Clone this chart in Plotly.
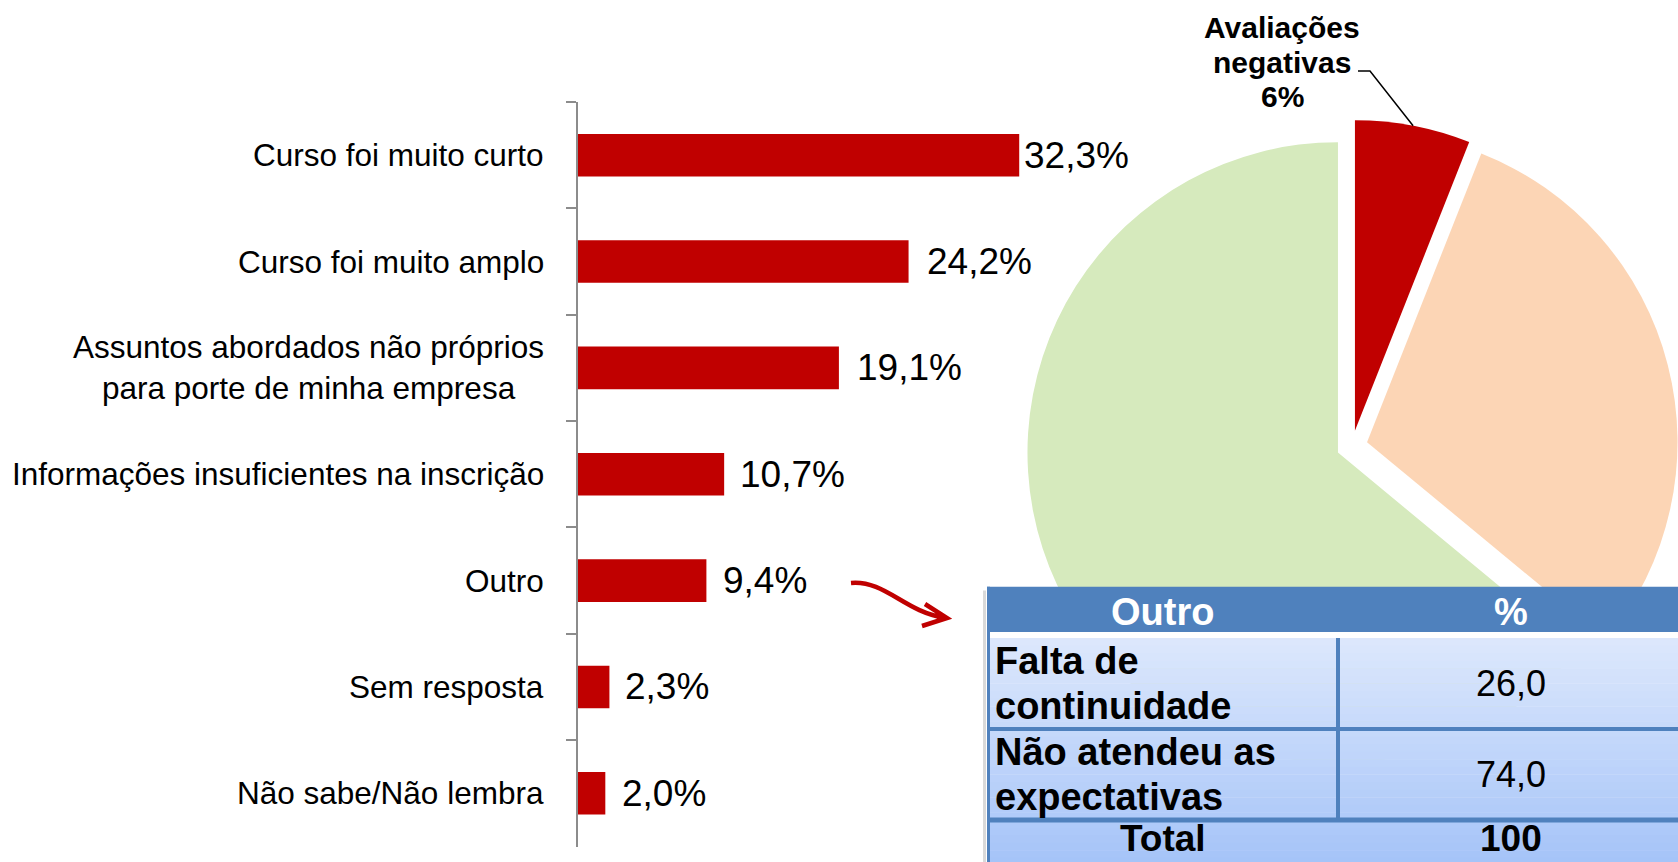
import math
import plotly.graph_objects as go

# ---------------- data ----------------
categories = [
    "Curso foi muito curto",
    "Curso foi muito amplo",
    "Assuntos abordados não próprios<br>para porte de minha empresa",
    "Informações insuficientes na inscrição",
    "Outro",
    "Sem resposta",
    "Não sabe/Não lembra",
]
values = [32.3, 24.2, 19.1, 10.7, 9.4, 2.3, 2.0]

pie_labels = ["Avaliações negativas", "Avaliações neutras", "Avaliações positivas"]
pie_values = [6, 30, 64]

table_header = ["Outro", "%"]
outro_items = ["Falta de<br>continuidade", "Não atendeu as<br>expectativas"]
outro_pct = [26.0, 74.0]
total_label = "Total"
total_value = 100

# ---------------- style / layout ----------------
W, H = 1678, 862
FONT = "Liberation Sans, Arial, sans-serif"
RED = "#C00000"
AXIS = "#8C8C8C"
BLUE = "#4F81BD"
PIE_COLORS = [RED, "#FCD5B5", "#D6EABD"]
label_shift = [3, 16, 16, 14, 15, 14, 15]


def px(x):
    return x / W


def py(y):
    return 1 - y / H


def br(v):
    return f"{v:.1f}".replace(".", ",")


fig = go.Figure()

# ---------------- bar chart ----------------
X_LEFT = 578
PX_PER_UNIT = 13.66
X_MAX = 40

fig.add_trace(go.Bar(
    x=values, y=categories, orientation="h", width=0.4,
    marker=dict(color=RED, line=dict(width=0)),
    showlegend=False, hovertemplate="%{y}: %{x}%<extra></extra>",
    xaxis="x", yaxis="y",
))

for cat, v, s in zip(categories, values, label_shift):
    fig.add_annotation(
        x=v, y=cat, xref="x", yref="y", text=br(v) + "%", showarrow=False,
        xanchor="left", yanchor="middle", xshift=s,
        font=dict(family=FONT, size=37, color="#000000"),
    )
    fig.add_annotation(
        x=px(546), y=cat, xref="paper", yref="y", text=cat, showarrow=False,
        xanchor="right", yanchor="middle", align="center",
        font=dict(family=FONT, size=31.5, color="#000000"),
    )

# ---------------- pie ----------------
PIE_CX, PIE_CY, PIE_HALF = 1352, 446, 326
PULL = 0.05
fig.add_trace(go.Pie(
    labels=pie_labels, values=pie_values, sort=False, direction="clockwise",
    rotation=0, pull=[PULL] * len(pie_values), textinfo="none",
    marker=dict(colors=PIE_COLORS, line=dict(width=0)),
    showlegend=False, hoverinfo="label+percent",
    domain=dict(x=[px(PIE_CX - PIE_HALF), min(1.0, px(PIE_CX + PIE_HALF))],
                y=[py(PIE_CY + 332), py(PIE_CY - 332)]),
))

# label of the red slice with leader line
pct_neg = round(100 * pie_values[0] / sum(pie_values))
label_lines = pie_labels[0].split(" ") + [f"{pct_neg}%"]
for i, line in enumerate(label_lines):
    fig.add_annotation(
        x=px(1282), y=py(28 + 34 * i), xref="paper", yref="paper", text=f"<b>{line}</b>",
        showarrow=False, xanchor="center", yanchor="middle",
        font=dict(family=FONT, size=30, color="#000000"),
    )
r_pie = PIE_HALF / (1 + PULL)
a_mid = math.radians(0.5 * pie_values[0] / sum(pie_values) * 360)
end_x = PIE_CX + (r_pie * (1 + PULL)) * math.sin(a_mid)
end_y = PIE_CY - (r_pie * (1 + PULL)) * math.cos(a_mid)
fig.add_shape(
    type="path", xref="paper", yref="paper",
    path=f"M {px(1358)},{py(71)} L {px(1370)},{py(71)} L {px(end_x)},{py(end_y)}",
    line=dict(color="#000000", width=1.5), layer="above",
)

# ---------------- curved red arrow ----------------
fig.add_shape(
    type="path", xref="paper", yref="paper",
    path=(f"M {px(851)},{py(583)} C {px(885)},{py(580)} {px(905)},{py(612)} {px(944)},{py(617.5)}"
          f" M {px(925)},{py(604)} L {px(947)},{py(618)} L {px(922)},{py(626)}"),
    line=dict(color=RED, width=4.5), layer="above",
)

# ---------------- table (Outro) ----------------
T_LEFT, T_TOP = 987, 586.5
UNIT = 45.5            # px per text line in the table
GAP = 0.13             # white separator below header (in line units)
col_widths = [351, 346]
col_edges = [0, col_widths[0], col_widths[0] + col_widths[1]]
col_mid = [(col_edges[i] + col_edges[i + 1]) / 2 for i in range(2)]

row_lines = [s.count("<br>") + 1 for s in outro_items] + [1]
row_top = []
y = 1 + GAP
for n in row_lines:
    row_top.append(y)
    y += n
body_top, body_bottom = 1 + GAP, y

fig.update_layout(
    xaxis2=dict(domain=[px(T_LEFT), 1.0], range=[0, W - T_LEFT], visible=False,
                anchor="y2", fixedrange=True),
    yaxis2=dict(domain=[0, py(T_TOP)], range=[(H - T_TOP) / UNIT, 0], visible=False,
                anchor="x2", fixedrange=True),
)

# header + white separator
fig.add_shape(type="rect", xref="x2", yref="y2", x0=0, x1=col_edges[2], y0=0, y1=1,
              fillcolor=BLUE, line=dict(width=0), layer="above")
fig.add_shape(type="rect", xref="x2", yref="y2", x0=0, x1=col_edges[2], y0=1, y1=body_top,
              fillcolor="#FFFFFF", line=dict(width=0), layer="above")
# body gradient
c0, c1 = (221, 232, 252), (164, 195, 248)
NB = 30
for k in range(NB):
    t = (k + 0.5) / NB
    col = tuple(round(c0[j] + (c1[j] - c0[j]) * t) for j in range(3))
    ya = body_top + (body_bottom - body_top) * k / NB
    yb = body_top + (body_bottom - body_top) * (k + 1) / NB
    fig.add_shape(type="rect", xref="x2", yref="y2", x0=0, x1=col_edges[2], y0=ya, y1=yb + 0.01,
                  fillcolor="rgb(%d,%d,%d)" % col, line=dict(width=0), layer="above")
# dividers
for yy, wdt in zip(row_top[1:], [4, 5]):
    fig.add_shape(type="line", xref="x2", yref="y2", x0=0, x1=col_edges[2], y0=yy, y1=yy,
                  line=dict(color=BLUE, width=wdt), layer="above")
fig.add_shape(type="line", xref="x2", yref="y2", x0=col_edges[1], x1=col_edges[1],
              y0=body_top, y1=row_top[-1], line=dict(color=BLUE, width=4), layer="above")
fig.add_shape(type="line", xref="x2", yref="y2", x0=1.5, x1=1.5,
              y0=0, y1=body_bottom, line=dict(color=BLUE, width=3), layer="above")
fig.add_shape(type="line", xref="paper", yref="paper", x0=px(T_LEFT - 2.5), x1=px(T_LEFT - 2.5),
              y0=py(T_TOP + 4), y1=0, line=dict(color="rgba(0,0,0,0.15)", width=3), layer="above")

# header text
for j, h in enumerate(table_header):
    fig.add_annotation(x=col_mid[j], y=0.5, xref="x2", yref="y2", text=f"<b>{h}</b>",
                       showarrow=False, xanchor="center", yanchor="middle", yshift=-3,
                       font=dict(family=FONT, size=38, color="#FFFFFF"))
# body text
for i, (item, pct) in enumerate(zip(outro_items, outro_pct)):
    lines = item.split("<br>")
    for k, line in enumerate(lines):
        fig.add_annotation(x=6, y=row_top[i] + 0.5 + k, xref="x2", yref="y2",
                           text=f"<b>{line}</b>", showarrow=False, xanchor="left",
                           yanchor="middle", font=dict(family=FONT, size=38, color="#000000"))
    fig.add_annotation(x=col_mid[1], y=row_top[i] + row_lines[i] / 2, xref="x2", yref="y2",
                       text=br(pct), showarrow=False, xanchor="center", yanchor="middle",
                       font=dict(family=FONT, size=36, color="#000000"))
fig.add_annotation(x=col_mid[0], y=row_top[-1] + 0.5, xref="x2", yref="y2",
                   text=f"<b>{total_label}</b>", showarrow=False, xanchor="center",
                   yanchor="middle", yshift=4, font=dict(family=FONT, size=37, color="#000000"))
fig.add_annotation(x=col_mid[1], y=row_top[-1] + 0.5, xref="x2", yref="y2",
                   text=f"<b>{total_value}</b>", showarrow=False, xanchor="center",
                   yanchor="middle", yshift=4, font=dict(family=FONT, size=37, color="#000000"))

# ---------------- layout ----------------
fig.update_layout(
    width=W, height=H, margin=dict(l=0, r=0, t=0, b=0, pad=0),
    paper_bgcolor="#FFFFFF", plot_bgcolor="rgba(0,0,0,0)",
    font=dict(family=FONT, color="#000000"),
    showlegend=False,
    xaxis=dict(domain=[px(X_LEFT), px(X_LEFT + X_MAX * PX_PER_UNIT)], range=[0, X_MAX],
               visible=False, fixedrange=True),
    yaxis=dict(domain=[py(846.5), py(102)], type="category", categoryorder="array",
               categoryarray=categories, range=[len(categories) - 0.5, -0.5],
               showline=True, linecolor=AXIS, linewidth=1.5, ticks="outside", ticklen=10,
               tickwidth=1.5, tickcolor=AXIS, tickson="boundaries", showticklabels=False,
               showgrid=False, zeroline=False, fixedrange=True),
)

fig.write_html(
    "out.html",
    config={"displayModeBar": False},
    post_script="document.body.style.margin='0';document.body.style.overflow='hidden';",
)
